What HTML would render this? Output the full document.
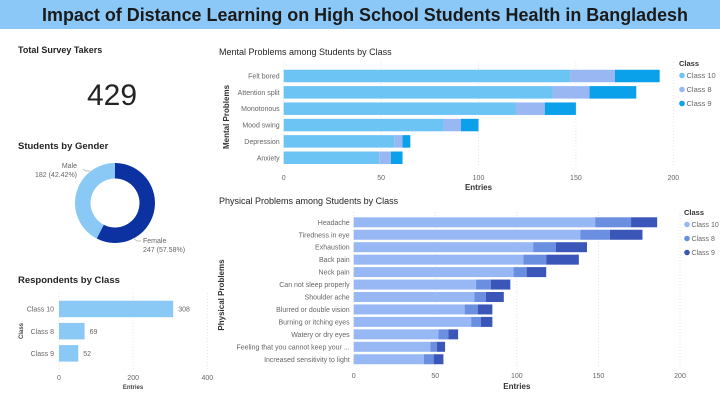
<!DOCTYPE html>
<html><head><meta charset="utf-8"><style>
html,body{margin:0;padding:0;background:#fff}
svg{display:block;font-family:"Liberation Sans",sans-serif}
</style></head><body>
<svg id="root" width="720" height="405" viewBox="0 0 720 405" xmlns="http://www.w3.org/2000/svg">
<rect x="0" y="0" width="720" height="29" fill="#8cc8f7"/>
<text x="365" y="21" text-anchor="middle" font-size="18" font-weight="bold" fill="#1a1a1a" textLength="646" lengthAdjust="spacingAndGlyphs">Impact of Distance Learning on High School Students Health in Bangladesh</text>
<text x="18" y="53" font-size="9" font-weight="bold" fill="#252423">Total Survey Takers</text>
<text x="112" y="105" text-anchor="middle" font-size="30" fill="#252423">429</text>
<text x="18" y="149" font-size="9.5" font-weight="bold" fill="#252423">Students by Gender</text>
<g id="donut"></g>
<text x="18" y="283" font-size="9.5" font-weight="bold" fill="#252423">Respondents by Class</text>
<g id="resp"></g>
<text x="219" y="55" font-size="9" fill="#252423">Mental Problems among Students by Class</text>
<g id="mental"></g>
<text x="219" y="204" font-size="9" fill="#252423">Physical Problems among Students by Class</text>
<g id="phys"></g>
</svg>
<script>
const NS="http://www.w3.org/2000/svg";
const genderLabels=["Female","Male"];
const genderValues=[247,182];
const respCats=["Class 10","Class 8","Class 9"];
const respValues=[308,69,52];
const respTicks=[0,200,400];
const mentalCats=["Felt bored","Attention split","Monotonous","Mood swing","Depression","Anxiety"];
const mentalC10=[147,138,119,82,57,49];
const mentalC8=[23,19,15,9,4,6];
const mentalC9=[23,24,16,9,4,6];
const mentalTicks=[0,50,100,150,200];
const physCats=["Headache","Tiredness in eye","Exhaustion","Back pain","Neck pain","Can not sleep properly","Shoulder ache","Blurred or double vision","Burning or itching eyes","Watery or dry eyes","Feeling that you cannot keep your ...","Increased sensitivity to light"];
const physC10=[148,139,110,104,98,75,74,68,72,52,47,43];
const physC8=[22,18,14,14,8,9,7,8,6,6,4,6];
const physC9=[16,20,19,20,12,12,11,9,7,6,5,6];
const physTicks=[0,50,100,150,200];
const seriesNames=["Class 10","Class 8","Class 9"];

function el(p,tag,a,txt){const e=document.createElementNS(NS,tag);for(const k in a)e.setAttribute(k,a[k]);if(txt!==undefined)e.textContent=txt;p.appendChild(e);return e;}

(function(){
const g=document.getElementById('donut');const cx=115,cy=203,R=40,r=24.5;
const tot=genderValues.reduce((a,b)=>a+b,0);const cols=["#0b32a0","#8ac8f6"];
let a0=0;
genderValues.forEach((v,i)=>{const a1=a0+v/tot*2*Math.PI;
const p=(rad,a)=>[cx+rad*Math.sin(a),cy-rad*Math.cos(a)];
const [x1,y1]=p(R,a0),[x2,y2]=p(R,a1),[x3,y3]=p(r,a1),[x4,y4]=p(r,a0);const lg=(a1-a0)>Math.PI?1:0;
const s=el(g,'path',{d:`M${x1},${y1}A${R},${R} 0 ${lg} 1 ${x2},${y2}L${x3},${y3}A${r},${r} 0 ${lg} 0 ${x4},${y4}Z`,fill:cols[i]});


a0=a1;});
const pct=v=>(v/tot*100).toFixed(2)+'%';
el(g,'path',{d:"M90,171 L86,171 L83,169",stroke:"#aaa",fill:"none","stroke-width":"0.7"});
const t1=el(g,'text',{x:77,y:168,"text-anchor":"end","font-size":7,fill:"#666"},genderLabels[1]);

el(g,'text',{x:77,y:177,"text-anchor":"end","font-size":7,fill:"#666"},genderValues[1]+" ("+pct(genderValues[1])+")");
el(g,'path',{d:"M133,238 L137,241 L141,241",stroke:"#aaa",fill:"none","stroke-width":"0.7"});
const t2=el(g,'text',{x:143,y:243,"font-size":7,fill:"#666"},genderLabels[0]);

el(g,'text',{x:143,y:252,"font-size":7,fill:"#666"},genderValues[0]+" ("+pct(genderValues[0])+")");
})();

(function(){
const g=document.getElementById('resp');const x0=59,x1=207.3,max=400;const sx=v=>x0+v/max*(x1-x0);
respTicks.forEach(t=>{el(g,'line',{x1:sx(t),x2:sx(t),y1:293,y2:370,stroke:"#ddd","stroke-dasharray":"1,2","stroke-width":0.8});
const tl=el(g,'text',{x:sx(t),y:380,"text-anchor":"middle","font-size":7,fill:"#666"},t);});
respCats.forEach((c,i)=>{const y=300.7+i*22.2;
const b=el(g,'rect',{x:x0,y:y,width:sx(respValues[i])-x0,height:16.5,fill:"#8ac8f6"});

el(g,'text',{x:54,y:y+11,"text-anchor":"end","font-size":7,fill:"#666"},c);
el(g,'text',{x:sx(respValues[i])+5,y:y+11,"font-size":7,fill:"#666"},respValues[i]);});
el(g,'text',{x:133,y:389,"text-anchor":"middle","font-size":6,fill:"#444","font-weight":"bold"},"Entries");
el(g,'text',{x:0,y:0,transform:"translate(23,331) rotate(-90)","text-anchor":"middle","font-size":6,fill:"#444","font-weight":"bold"},"Class");
})();

function stacked(gid,cats,s1,s2,s3,ticks,o){
const g=document.getElementById(gid);const sx=v=>o.x0+v/200*(o.x1-o.x0);
ticks.forEach(t=>{el(g,'line',{x1:sx(t),x2:sx(t),y1:o.top,y2:o.bot,stroke:"#ddd","stroke-dasharray":"1,2","stroke-width":0.8});
const tl=el(g,'text',{x:sx(t),y:o.tickY,"text-anchor":"middle","font-size":7,fill:"#666"},t);});
const series=[s1,s2,s3];
cats.forEach((c,i)=>{const cy=o.y0+i*o.pitch;let acc=0;
el(g,'text',{x:o.x0-4,y:cy+2.5,"text-anchor":"end","font-size":o.fs,fill:"#666"},c);
series.forEach((s,k)=>{const b=el(g,'rect',{x:sx(acc),y:cy-o.bh/2,width:sx(acc+s[i])-sx(acc),height:o.bh,fill:o.cols[k]});
acc+=s[i];});});
el(g,'text',{x:(o.x0+o.x1)/2,y:o.entY,"text-anchor":"middle","font-size":8,fill:"#333","font-weight":"bold"},"Entries");
el(g,'text',{x:0,y:0,transform:`translate(${o.ytX},${o.ytY}) rotate(-90)`,"text-anchor":"middle","font-size":8,fill:"#333","font-weight":"bold"},o.yTitle);
el(g,'text',{x:o.lx,y:o.ly,"font-size":7.5,fill:"#333","font-weight":"bold"},"Class");
seriesNames.forEach((n,k)=>{const ly=o.ly+12+k*14;el(g,'circle',{cx:o.lx+3,cy:ly-2.5,r:2.8,fill:o.cols[k]});
const lt=el(g,'text',{x:o.lx+7.5,y:ly,"font-size":o.lfs,fill:"#666"},n);});
}
stacked('mental',mentalCats,mentalC10,mentalC8,mentalC9,mentalTicks,{x0:283.7,x1:673.3,top:62,bot:167,tickY:180,entY:190,y0:76,pitch:16.35,bh:12.5,fs:7,lfs:7.5,cols:["#6cc4f5","#99b8f3","#0aa0ea"],yTitle:"Mental Problems",ytX:229,ytY:117,lx:679,ly:66});
stacked('phys',physCats,physC10,physC8,physC9,physTicks,{x0:353.7,x1:680,top:212,bot:367,tickY:378,entY:389,y0:222.3,pitch:12.45,bh:10,fs:7,lfs:7,cols:["#98b8f5","#6a8ee0","#3a56b8"],yTitle:"Physical Problems",ytX:224,ytY:295,lx:684,ly:215});
</script>
</body></html>
